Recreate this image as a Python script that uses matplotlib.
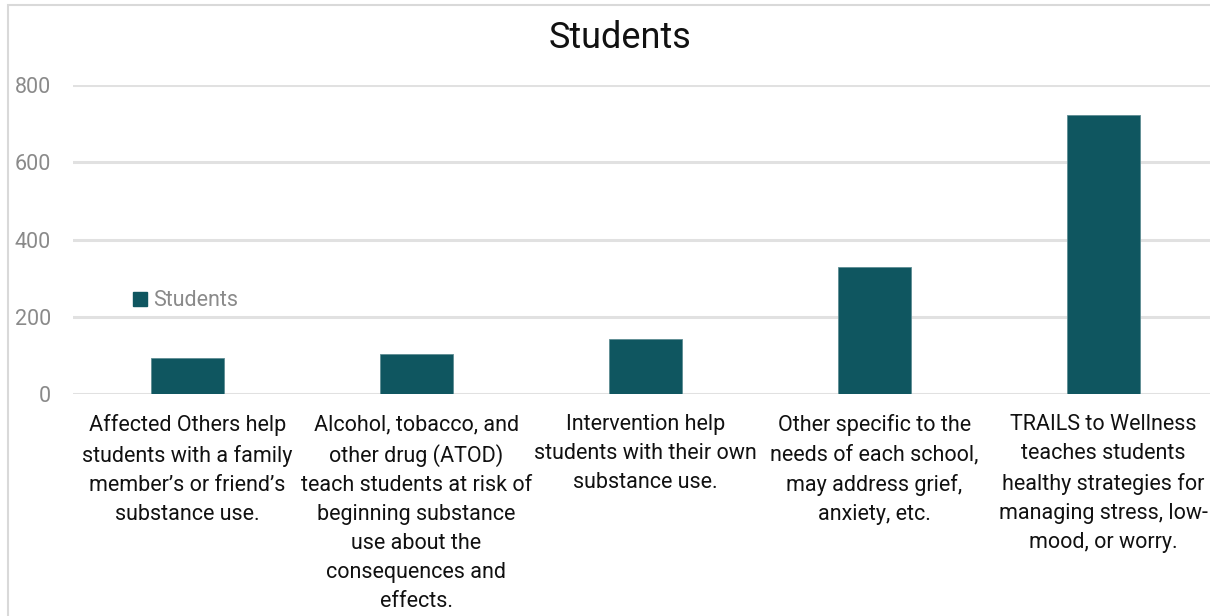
import matplotlib
matplotlib.use("Agg")
import matplotlib.pyplot as plt
import numpy as np
from matplotlib.patches import Patch, Rectangle

# program enrollment counts
programs = [
    "Affected Others help\nstudents with a family\nmember\u2019s or friend\u2019s\nsubstance use.",
    "Alcohol, tobacco, and\nother drug (ATOD)\nteach students at risk of\nbeginning substance\nuse about the\nconsequences and\neffects.",
    "Intervention help\nstudents with their own\nsubstance use.",
    "Other specific to the\nneeds of each school,\nmay address grief,\nanxiety, etc.",
    "TRAILS to Wellness\nteaches students\nhealthy strategies for\nmanaging stress, low-\nmood, or worry.",
]
students = [93, 104, 142, 328, 723]
yticks = [0, 200, 400, 600, 800]

bar_color = "#0f5660"
grid_color = "#e1e1e1"
label_gray = "#8a8a8a"

plt.rcParams["font.family"] = ["Roboto", "DejaVu Sans"]

W, H = 1210, 616
fig = plt.figure(figsize=(W / 100, H / 100), dpi=100)

# plot area in pixels: x 73..1218, y 85..394
left, right, top, bottom = 73, 1218, 85, 394
ax = fig.add_axes([left / W, 1 - bottom / H, (right - left) / W, (bottom - top) / H])

x = np.arange(len(programs))
ax.bar(x, students, width=0.315, color=bar_color, edgecolor="#5e8d93",
       linewidth=0.6, zorder=3, label="Students")

ax.set_xlim(-0.5, len(programs) - 0.5)
ax.set_ylim(0, 800)
ax.set_yticks(yticks)
ax.set_yticklabels([str(v) for v in yticks], fontsize=15.5, color=label_gray)
ax.set_xticks(x)
ax.set_xticklabels(programs, fontsize=15.5, color="#111111", linespacing=1.5)
ax.tick_params(axis="y", length=0, pad=16)
ax.tick_params(axis="x", length=0, pad=14.5)
ax.yaxis.grid(True, color=grid_color, linewidth=2.2, zorder=0)
ax.set_axisbelow(True)
for s in ax.spines.values():
    s.set_visible(False)

ax.legend(handles=[Patch(facecolor=bar_color, edgecolor=bar_color, label="Students")],
          loc="center left", bbox_to_anchor=((133 - left) / (right - left), (bottom - 301) / (bottom - top)),
          frameon=False, fontsize=15.5, labelcolor=label_gray, handlelength=0.65,
          handleheight=0.65, handletextpad=0.3, borderpad=0, borderaxespad=0)

fig.text(620 / W, 1 - 38 / H, "Students", fontsize=26, ha="center", va="center", color="#111111")

# chart frame, open past the right and bottom edges
fig.add_artist(Rectangle((8 / W, -0.1), 1.2, 1 - 5 / H + 0.1, transform=fig.transFigure,
                         fill=False, edgecolor="#d9d9d9", linewidth=1.5))

fig.savefig("out.png", dpi=100, facecolor="white")
